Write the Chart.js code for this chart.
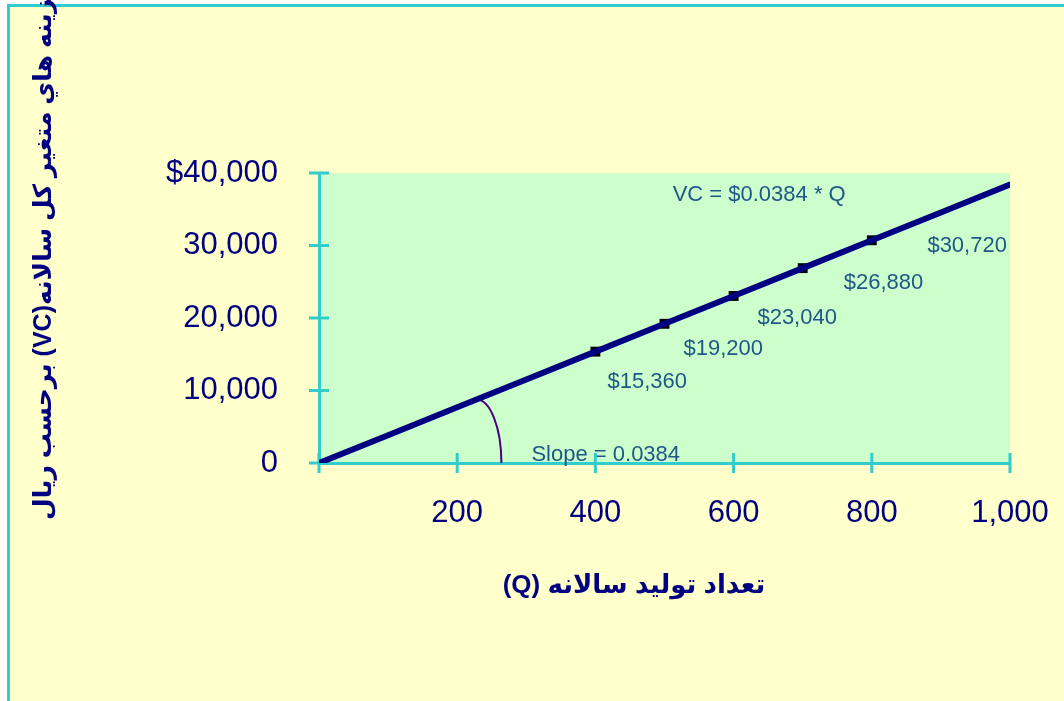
<!DOCTYPE html>
<html>
<head>
<meta charset="utf-8">
<script src="https://cdn.jsdelivr.net/npm/chart.js@4"></script>
<style>
  html, body { margin: 0; padding: 0; background: #ffffff; }
  #wrap { width: 1064px; height: 701px; position: relative; }
  canvas { display: block; }
</style>
</head>
<body>
<div id="wrap"><canvas id="chart" width="1064" height="701"></canvas></div>
<script>
// Annual output (Q) and total variable cost (VC = 0.0384 * Q, shown in thousands of rial)
const quantity     = [0, 100, 200, 300, 400, 500, 600, 700, 800, 900, 1000];
const variableCost = [0, 3840, 7680, 11520, 15360, 19200, 23040, 26880, 30720, 34560, 38400];

// Highlighted points on the cost line
const markedQuantity = [400, 500, 600, 700, 800];
const markedCost     = [15360, 19200, 23040, 26880, 30720];

// Axis ticks
const xTickValues = [0, 200, 400, 600, 800, 1000];
const yTickValues = [0, 10000, 20000, 30000, 40000];

// Texts
const equationText = 'VC = $0.0384 * Q';
const slopeText    = 'Slope = 0.0384';
const xAxisTitle   = 'تعداد تولید سالانه (Q)';
const yAxisTitle   = 'هزينه هاي متغير كل سالانه(VC) برحسب ريال';

const COLORS = {
  page: '#ffffcc',
  plot: '#ccffcc',
  axis: '#33cccc',
  line: '#000080',
  tickText: '#000080',
  note: '#1f5887',
  arc: '#4b0082',
  marker: '#000000'
};
const LATIN = '"Liberation Sans", Arial, sans-serif';
const ARABIC = '"Liberation Sans", "DejaVu Sans", sans-serif';

const fmt = v => v.toLocaleString('en-US');
const money = v => '$' + fmt(v);

// Page frame, plot background, cross ticks, notes and axis titles
const decorations = {
  id: 'decorations',
  beforeDraw(chart) {
    const { ctx, chartArea: a } = chart;
    ctx.save();
    ctx.fillStyle = '#ffffff';
    ctx.fillRect(0, 0, chart.width, chart.height);
    ctx.fillStyle = COLORS.axis;
    ctx.fillRect(7, 4, chart.width, chart.height);
    ctx.fillStyle = COLORS.page;
    ctx.fillRect(10, 7, chart.width, chart.height);
    ctx.fillStyle = COLORS.plot;
    ctx.fillRect(a.left, a.top, a.right - a.left, a.bottom - a.top);
    ctx.restore();
  },
  beforeDatasetsDraw(chart, args, opts) {
    const { ctx, chartArea: a, scales: { x, y } } = chart;
    ctx.save();

    // value notes next to the marked points
    ctx.fillStyle = COLORS.note;
    ctx.font = '22px ' + LATIN;
    ctx.textAlign = 'center';
    ctx.textBaseline = 'middle';
    markedCost.forEach((v, i) => {
      const p = opts.valueNotes[i];
      ctx.fillText(money(v), x.getPixelForValue(p.x), y.getPixelForValue(p.y));
    });
    ctx.fillText(equationText, x.getPixelForValue(opts.equationAt.x), y.getPixelForValue(opts.equationAt.y));
    ctx.fillText(slopeText, x.getPixelForValue(opts.slopeAt.x), y.getPixelForValue(opts.slopeAt.y));

    // slope angle arc (quarter ellipse between the line and the x axis)
    const cx = x.getPixelForValue(opts.arc.centerQ);
    const cy = y.getPixelForValue(0);
    const rx = x.getPixelForValue(opts.arc.endQ) - cx;
    const ry = cy - y.getPixelForValue(opts.arc.topVC);
    ctx.strokeStyle = COLORS.arc;
    ctx.lineWidth = 2;
    ctx.beginPath();
    ctx.ellipse(cx, cy, rx, ry, 0, -Math.PI / 2, 0);
    ctx.stroke();

    // tick marks crossing both axes
    ctx.strokeStyle = COLORS.axis;
    ctx.lineWidth = 3;
    ctx.beginPath();
    x.ticks.forEach(t => {
      const px = x.getPixelForValue(t.value);
      ctx.moveTo(px, a.bottom - 10);
      ctx.lineTo(px, a.bottom + 10);
    });
    y.ticks.forEach(t => {
      const py = y.getPixelForValue(t.value);
      ctx.moveTo(a.left - 10, py);
      ctx.lineTo(a.left + 10, py);
    });
    ctx.stroke();

    // axis titles
    ctx.fillStyle = COLORS.tickText;
    ctx.font = 'bold 26px ' + ARABIC;
    ctx.direction = 'rtl';
    ctx.textAlign = 'center';
    ctx.fillText(xAxisTitle, 634, 586);

    ctx.font = 'bold 25px ' + ARABIC;
    ctx.translate(44, 520);
    ctx.rotate(-Math.PI / 2);
    ctx.textAlign = 'left';
    ctx.fillText(yAxisTitle, 0, 0);
    ctx.restore();
  }
};

new Chart(document.getElementById('chart'), {
  type: 'line',
  data: {
    datasets: [
      {
        label: 'VC',
        data: quantity.map((q, i) => ({ x: q, y: variableCost[i] })),
        borderColor: COLORS.line,
        borderWidth: 6,
        borderCapStyle: 'round',
        borderJoinStyle: 'round',
        pointRadius: 0,
        tension: 0,
        order: 1
      },
      {
        label: 'points',
        data: markedQuantity.map((q, i) => ({ x: q, y: markedCost[i] })),
        showLine: false,
        pointStyle: 'rect',
        pointRadius: 7,
        pointBackgroundColor: COLORS.marker,
        pointBorderWidth: 0,
        order: 2
      }
    ]
  },
  options: {
    responsive: false,
    animation: false,
    devicePixelRatio: 1,
    layout: { padding: { left: 0, top: 173, right: 54, bottom: 0 } },
    plugins: {
      legend: { display: false },
      tooltip: { enabled: false },
      decorations: {
        valueNotes: [
          { x: 475, y: 11200 },
          { x: 585, y: 15700 },
          { x: 692, y: 20000 },
          { x: 817, y: 24800 },
          { x: 938, y: 29900 }
        ],
        equationAt: { x: 637, y: 37000 },
        slopeAt: { x: 415, y: 1100 },
        arc: { centerQ: 228, endQ: 264, topVC: 8750 }
      }
    },
    scales: {
      x: {
        type: 'linear',
        min: 0,
        max: 1000,
        afterBuildTicks: s => { s.ticks = xTickValues.map(v => ({ value: v })); },
        afterFit: s => { s.height = 238; s.paddingLeft = 0; s.paddingRight = 0; },
        grid: { display: false },
        border: { display: true, color: COLORS.axis, width: 3 },
        ticks: {
          color: COLORS.tickText,
          font: { family: LATIN, size: 31 },
          padding: 24,
          maxRotation: 0,
          callback: v => (v === 0 ? '' : fmt(v))
        }
      },
      y: {
        type: 'linear',
        min: 0,
        max: 40000,
        afterBuildTicks: s => { s.ticks = yTickValues.map(v => ({ value: v })); },
        afterFit: s => { s.width = 319; s.paddingTop = 0; s.paddingBottom = 0; },
        grid: { display: false },
        border: { display: true, color: COLORS.axis, width: 3 },
        ticks: {
          color: COLORS.tickText,
          font: { family: LATIN, size: 31 },
          padding: 33,
          callback: v => (v === 40000 ? money(v) : fmt(v))
        }
      }
    }
  },
  plugins: [decorations]
});
</script>
</body>
</html>
